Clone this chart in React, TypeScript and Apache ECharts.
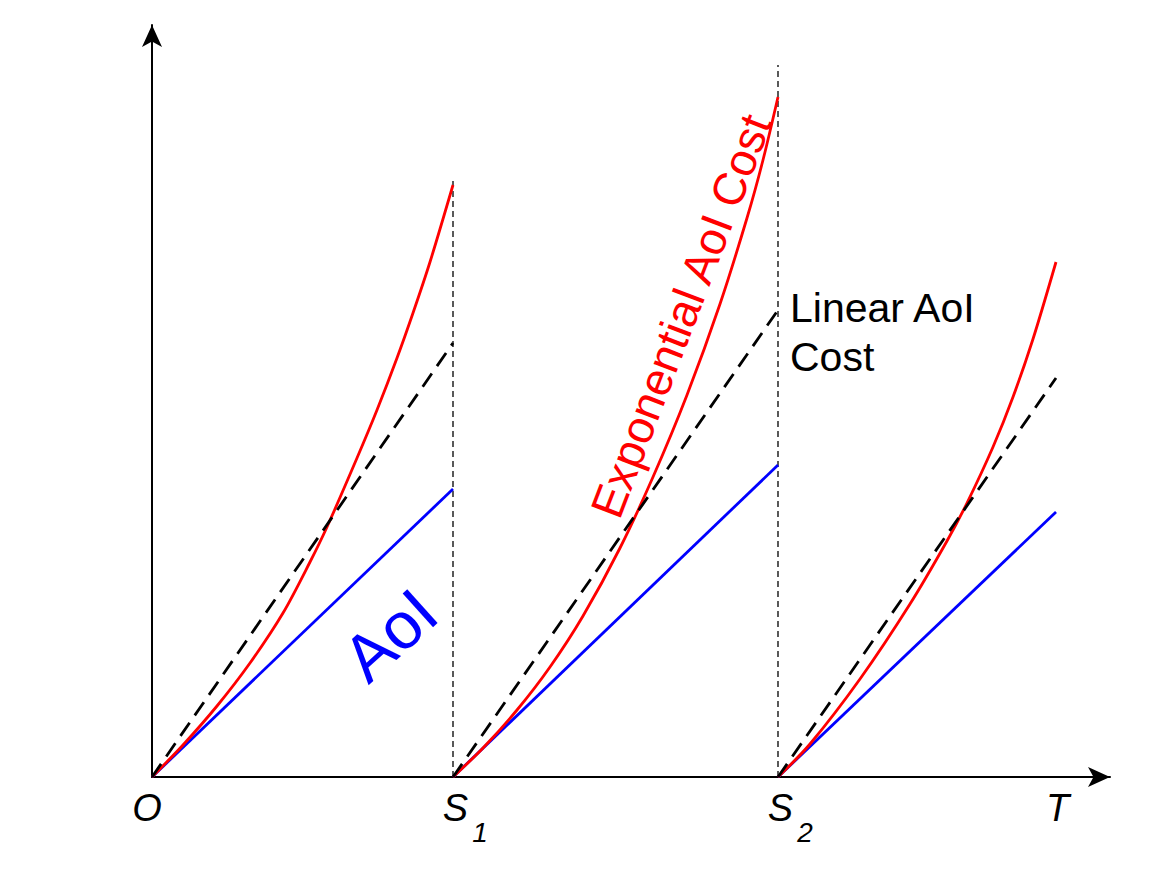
import React, { useEffect, useRef } from "react";
import * as echarts from "echarts";

// x in time units, y in cost units
const segStarts = [0, 3.01, 6.26];
const segEnds = [3.01, 6.26, 9.04];
const aoiPeaks = [2.88, 3.12, 2.65];
const linearPeaks = [4.34, 4.67, 3.99];
const resetTops = [6.0, 7.12];

const expX1 = [0, 0.31, 0.65, 0.98, 1.31, 1.58, 1.75, 2.05, 2.25, 2.45, 2.61, 2.78, 3.01];
const expY1 = [0, 0.32, 0.71, 1.14, 1.64, 2.15, 2.5, 3.19, 3.67, 4.19, 4.64, 5.15, 5.92];
const expX2 = [3.01, 3.31, 3.65, 3.98, 4.31, 4.68, 5.01, 5.35, 5.68, 5.95, 6.11, 6.26];
const expY2 = [0, 0.29, 0.67, 1.1, 1.61, 2.29, 3.0, 3.82, 4.73, 5.59, 6.17, 6.8];
const expX3 = [6.26, 6.58, 7.08, 7.58, 7.95, 8.15, 8.41, 8.61, 8.81, 9.04];
const expY3 = [0, 0.33, 0.98, 1.73, 2.36, 2.74, 3.3, 3.8, 4.38, 5.15];

const tickValues = [0, 3.01, 6.26, 9.04];
const tickMain = ["O", "S", "S", "T"];
const tickSub = ["", "1", "2", ""];

const X_MAX = 9.58;
const Y_MAX = 7.52;
const FONT = 'Arial, "Liberation Sans", Helvetica, sans-serif';

export default function App() {
  const ref = useRef<HTMLDivElement>(null);
  useEffect(() => {
    if (!ref.current) return;
    const chart = echarts.init(ref.current, undefined, { renderer: "svg" });
    const series: any[] = [];
    const expSets = [
      [expX1, expY1],
      [expX2, expY2],
      [expX3, expY3],
    ];
    segStarts.forEach((s, i) => {
      series.push({
        type: "line",
        data: [
          [s, 0],
          [segEnds[i], linearPeaks[i]],
        ],
        symbol: "none",
        silent: true,
        lineStyle: { color: "#000", width: 2.8, type: [16, 9] },
        z: 3,
      });
      series.push({
        type: "line",
        data: [
          [s, 0],
          [segEnds[i], aoiPeaks[i]],
        ],
        symbol: "none",
        silent: true,
        lineStyle: { color: "#0000ff", width: 2.8 },
        z: 2,
      });
      const [xs, ys] = expSets[i];
      series.push({
        type: "line",
        data: xs.map((x, k) => [x, ys[k]]),
        symbol: "none",
        smooth: 0.3,
        silent: true,
        lineStyle: { color: "#ff0000", width: 2.8 },
        z: 2,
      });
    });
    resetTops.forEach((top, i) => {
      series.push({
        type: "line",
        data: [
          [segEnds[i], 0],
          [segEnds[i], top],
        ],
        symbol: "none",
        silent: true,
        lineStyle: { color: "#000", width: 1.3, type: [6, 4] },
        z: 1,
      });
    });

    const axisCommon = {
      type: "value",
      min: 0,
      splitLine: { show: false },
      axisTick: { show: false },
      axisLabel: { show: false },
      axisLine: {
        show: true,
        onZero: true,
        symbol: ["none", "arrow"],
        symbolSize: [15, 22],
        lineStyle: { color: "#000", width: 2 },
      },
    };

    chart.setOption({
      animation: false,
      backgroundColor: "#ffffff",
      grid: { left: 152, right: 57, top: 25, bottom: 98, containLabel: false },
      xAxis: { ...axisCommon, max: X_MAX },
      yAxis: { ...axisCommon, max: Y_MAX },
      series,
    });

    const px = (x: number, y: number) =>
      chart.convertToPixel({ xAxisIndex: 0, yAxisIndex: 0 }, [x, y]) as number[];

    const graphics: any[] = [];
    const mainDx = [-5, 2.5, 2.5, 1.5];
    tickValues.forEach((v, i) => {
      const [x, y] = px(v, 0);
      graphics.push({
        type: "text",
        x: x + mainDx[i],
        y: y + 31,
        silent: true,
        style: {
          text: tickMain[i],
          fill: "#000",
          fontSize: 38,
          fontStyle: "italic",
          fontFamily: FONT,
          align: "center",
          verticalAlign: "middle",
        },
      });
      if (tickSub[i]) {
        graphics.push({
          type: "text",
          x: x + 27,
          y: y + 55,
          silent: true,
          style: {
            text: tickSub[i],
            fill: "#000",
            fontSize: 28,
            fontStyle: "italic",
            fontFamily: FONT,
            align: "center",
            verticalAlign: "middle",
          },
        });
      }
    });

    const [aX, aY] = px(2.38, 1.42);
    graphics.push({
      type: "text",
      x: aX,
      y: aY,
      rotation: (42 * Math.PI) / 180,
      silent: true,
      style: {
        text: "AoI",
        fill: "#0000ff",
        fontSize: 66,
        fontFamily: FONT,
        align: "center",
        verticalAlign: "middle",
      },
    });
    const [eX, eY] = px(5.29, 4.61);
    graphics.push({
      type: "text",
      x: eX,
      y: eY,
      rotation: (69 * Math.PI) / 180,
      silent: true,
      style: {
        text: "Exponential AoI Cost",
        fill: "#ff0000",
        fontSize: 46,
        fontFamily: FONT,
        align: "center",
        verticalAlign: "middle",
      },
    });
    const [lX, lY] = px(6.38, 4.69);
    graphics.push({
      type: "text",
      x: lX,
      y: lY - 25,
      silent: true,
      style: {
        text: "Linear AoI\nCost",
        fill: "#000",
        fontSize: 41,
        lineHeight: 49,
        fontFamily: FONT,
        align: "left",
        verticalAlign: "top",
      },
    });

    chart.setOption({ graphic: graphics });

    return () => chart.dispose();
  }, []);
  return (
    <div
      ref={ref}
      style={{ position: "fixed", left: 0, top: 0, width: 1167, height: 875, background: "#fff" }}
    />
  );
}
